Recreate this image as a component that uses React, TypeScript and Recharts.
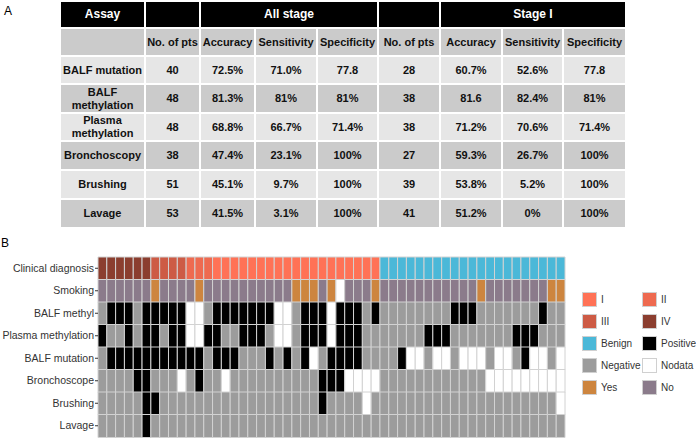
import { BarChart, Bar, XAxis, YAxis, Cell } from 'recharts'

// Panel A table values
const assays = ['BALF mutation', 'BALF\nmethylation', 'Plasma\nmethylation', 'Bronchoscopy', 'Brushing', 'Lavage']
const allPts = ['40', '48', '48', '38', '51', '53']
const allAccuracy = ['72.5%', '81.3%', '68.8%', '47.4%', '45.1%', '41.5%']
const allSensitivity = ['71.0%', '81%', '66.7%', '23.1%', '9.7%', '3.1%']
const allSpecificity = ['77.8', '81%', '71.4%', '100%', '100%', '100%']
const stage1Pts = ['28', '38', '38', '27', '39', '41']
const stage1Accuracy = ['60.7%', '81.6', '71.2%', '59.3%', '53.8%', '51.2%']
const stage1Sensitivity = ['52.6%', '82.4%', '70.6%', '26.7%', '5.2%', '0%']
const stage1Specificity = ['77.8', '81%', '71.4%', '100%', '100%', '100%']
const subHeaders = ['', 'No. of pts', 'Accuracy', 'Sensitivity', 'Specificity', 'No. of pts', 'Accuracy', 'Sensitivity', 'Specificity']

// Panel B heatmap, one code per patient (53 columns, grouped by 10)
const heatRows = ['Clinical diagnosis', 'Smoking', 'BALF methyl', 'Plasma methylation', 'BALF mutation', 'Bronchoscope', 'Brushing', 'Lavage']
const clinical = '4444443333 2221111111 1111111111 11BBBBBBBB BBBBBBBBBB BBB'
const smoking = 'nnnnnnynnn nynnnnnnnn nnyyynywnn nynnnnnnnn nnnynnnnnn nyy'
const balfMethyl = 'NPPPNPPPPP WWNPPPPPPP WWNPPPWPPP NPNNNNNNNN PPPNNNNNNN PNN'
const plasmaMethyl = 'PNNPNPPNPP WWPPNNPPPN WWNPPPWPPP NNNNNNNPPP NNNNNNNPPP NNN'
const balfMutation = 'NPPPPPPPPP PPNPPPNNNP NPNPWNPPPP NNNNPWWNWW NWWWNWWNPW WNW'
const bronchoscope = 'NNNNPPNNNW NPNNWNNNNN NNNNNPPPWW WWNNNNNNNN NNNNWWWWWW WWW'
const brushing = 'NNNNNPPNNN NNNNNNNNNN NNNNNPNNNN WNNNNNNNNN NNNNNNNNNN NNW'
const lavage = 'NNNNNPNNNN NNNNNNNNNN NNNNNNNNNN NNNNNNNNNN NNNNNNNNNN NNN'

const palette: Record<string, string> = {
    '1': '#FF7256',
    '2': '#EE6A50',
    '3': '#CD5B45',
    '4': '#8B3E2F',
    B: '#4BB8D8',
    P: '#000000',
    N: '#9C9C9C',
    W: '#FFFFFF',
    y: '#CD853F',
    n: '#8B7B8B',
    w: '#FFFFFF',
}

const legendItems = [
    ['I', '1'], ['II', '2'],
    ['III', '3'], ['IV', '4'],
    ['Benign', 'B'], ['Positive', 'P'],
    ['Negative', 'N'], ['Nodata', 'W'],
    ['Yes', 'y'], ['No', 'n'],
]

const codes = [clinical, smoking, balfMethyl, plasmaMethyl, balfMutation, bronchoscope, brushing, lavage]
    .map(s => s.replace(/ /g, '').split(''))
const nCols = codes[0].length
const colKeys = codes[0].map((_, i) => `c${i}`)
const heatData = heatRows.map(row => {
    const d: Record<string, string | number> = { row }
    colKeys.forEach(k => { d[k] = 1 })
    return d
})

const FONT = '"Liberation Sans", Arial, Helvetica, sans-serif'
const colEdges = [60, 145, 200, 255, 317, 378, 440, 502, 563, 626]
const rowEdges = [1, 28, 56, 84, 113, 141, 170, 199, 228]

function Box({ x0, x1, y0, y1, bg, color = '#111', size = 11, children }: any) {
    return (
        <div
            style={{
                position: 'absolute',
                left: x0 + 1,
                top: y0 + 1,
                width: x1 - x0 - 2,
                height: y1 - y0 - 2,
                background: bg,
                color,
                fontSize: size,
                fontWeight: 'bold',
                display: 'flex',
                alignItems: 'center',
                justifyContent: 'center',
                textAlign: 'center',
                lineHeight: '13px',
                whiteSpace: 'pre-line',
            }}
        >
            {children}
        </div>
    )
}

function AssayTable() {
    const header = [
        { a: 0, b: 1, t: 'Assay' },
        { a: 1, b: 2, t: '' },
        { a: 2, b: 5, t: 'All stage' },
        { a: 5, b: 6, t: '' },
        { a: 6, b: 9, t: 'Stage I' },
    ]
    const body = assays.map((a, i) => [
        a, allPts[i], allAccuracy[i], allSensitivity[i], allSpecificity[i],
        stage1Pts[i], stage1Accuracy[i], stage1Sensitivity[i], stage1Specificity[i],
    ])
    return (
        <>
            {header.map((h, i) => (
                <Box key={'h' + i} x0={colEdges[h.a]} x1={colEdges[h.b]} y0={rowEdges[0]} y1={rowEdges[1]} bg="#000" color="#fff" size={12}>
                    {h.t}
                </Box>
            ))}
            {subHeaders.map((t, c) => (
                <Box key={'s' + c} x0={colEdges[c]} x1={colEdges[c + 1]} y0={rowEdges[1]} y1={rowEdges[2]} bg="#cbcbcb">
                    {t}
                </Box>
            ))}
            {body.map((r, i) =>
                r.map((t, c) => (
                    <Box
                        key={`b${i}-${c}`}
                        x0={colEdges[c]}
                        x1={colEdges[c + 1]}
                        y0={rowEdges[i + 2]}
                        y1={rowEdges[i + 3]}
                        bg={i % 2 === 0 ? '#e6e6e6' : '#cbcbcb'}
                    >
                        {t}
                    </Box>
                ))
            )}
        </>
    )
}

// single-line row labels (the default tick wraps long names)
function RowTick({ x, y, payload }: any) {
    return (
        <text x={x} y={y} dy={3.5} textAnchor="end" fill="#333" fontSize={10.5} fontFamily={FONT}>
            {payload.value}
        </text>
    )
}

function HeatLegend() {
    return (
        <div style={{ position: 'absolute', left: 582, top: 292 }}>
            {legendItems.map(([label, code], i) => (
                <div
                    key={label}
                    style={{
                        position: 'absolute',
                        left: (i % 2) * 60,
                        top: Math.floor(i / 2) * 22,
                        display: 'flex',
                        alignItems: 'center',
                        whiteSpace: 'nowrap',
                    }}
                >
                    <div style={{ width: 15, height: 15, boxSizing: 'border-box', border: '1px solid #d0d0d0', background: palette[code] }} />
                    <span style={{ marginLeft: 4, fontSize: 10, color: '#333' }}>{label}</span>
                </div>
            ))}
        </div>
    )
}

export default function App() {
    return (
        <div style={{ position: 'absolute', left: 0, top: 0, width: 696, height: 443, background: '#fff', fontFamily: FONT, overflow: 'hidden' }}>
            <div style={{ position: 'absolute', left: 4, top: 4, fontSize: 12 }}>A</div>
            <AssayTable />
            <div style={{ position: 'absolute', left: 1, top: 236, fontSize: 12 }}>B</div>
            <div style={{ position: 'absolute', left: 0, top: 245 }}>
                <BarChart
                    width={570}
                    height={198}
                    data={heatData}
                    layout="vertical"
                    margin={{ top: 12, right: 5, bottom: 6, left: 0 }}
                    barCategoryGap={0}
                    barGap={0}
                >
                    <XAxis type="number" domain={[0, nCols]} hide />
                    <YAxis
                        type="category"
                        dataKey="row"
                        width={98}
                        interval={0}
                        axisLine={false}
                        tickSize={3}
                        tickMargin={1}
                        tickLine={{ stroke: '#333' }}
                        tick={<RowTick />}
                    />
                    {colKeys.map((k, i) => (
                        <Bar key={k} dataKey={k} stackId="h" isAnimationActive={false} stroke="#d2d2d2" strokeWidth={1}>
                            {heatRows.map((r, j) => (
                                <Cell key={r} fill={palette[codes[j][i]]} />
                            ))}
                        </Bar>
                    ))}
                </BarChart>
            </div>
            <HeatLegend />
        </div>
    )
}
